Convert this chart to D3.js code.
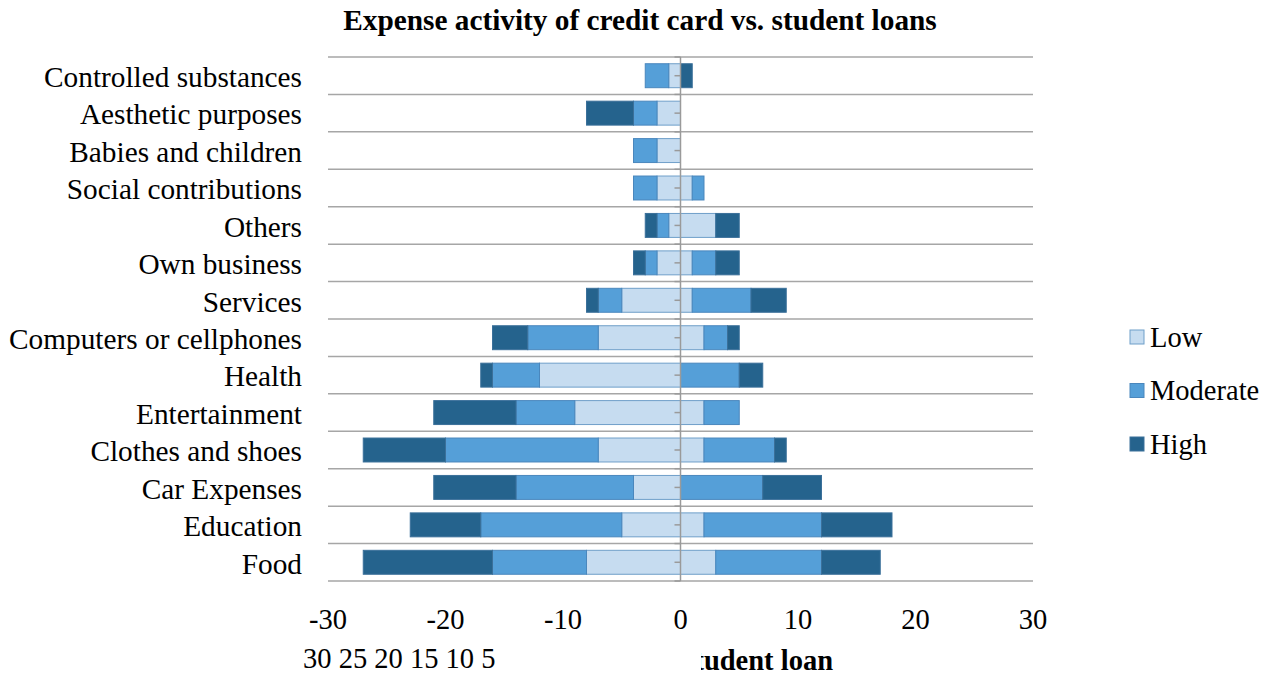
<!DOCTYPE html>
<html>
<head>
<meta charset="utf-8">
<script src="https://cdn.jsdelivr.net/npm/d3@7"></script>
<style>
  html, body { margin: 0; padding: 0; background: #fff; }
  svg { display: block; }
  text { font-family: "Liberation Serif", "Times New Roman", serif; fill: #000; }
</style>
</head>
<body>
<svg id="chart" width="1277" height="677"></svg>
<script>
// Expense categories, listed top to bottom
const categories = [
  "Controlled substances", "Aesthetic purposes", "Babies and children",
  "Social contributions", "Others", "Own business", "Services",
  "Computers or cellphones", "Health", "Entertainment", "Clothes and shoes",
  "Car Expenses", "Education", "Food"
];

// Credit card (drawn to the left of zero)
const creditLow      = [1, 2, 2, 2, 1, 2, 5, 7, 12, 9, 7, 4, 5, 8];
const creditModerate = [2, 2, 2, 2, 1, 1, 2, 6, 4, 5, 13, 10, 12, 8];
const creditHigh     = [0, 4, 0, 0, 1, 1, 1, 3, 1, 7, 7, 7, 6, 11];

// Student loans (drawn to the right of zero)
const loanLow      = [0, 0, 0, 1, 3, 1, 1, 2, 0, 2, 2, 0, 2, 3];
const loanModerate = [0, 0, 0, 1, 0, 2, 5, 2, 5, 3, 6, 7, 10, 9];
const loanHigh     = [1, 0, 0, 0, 2, 2, 3, 1, 2, 0, 1, 5, 6, 5];

const levels = ["Low", "Moderate", "High"];
const colors = { Low: "#c6dcf0", Moderate: "#559fd8", High: "#25638d" };
const strokes = { Low: "#6f9fc9", Moderate: "#4a87bd", High: "#3b709a" };

const xTicks = [-30, -20, -10, 0, 10, 20, 30];
const leftScaleLabels = ["30", "25", "20", "15", "10", "5"];

const FS = 28.5;
const FS_LABEL = 29.3;

const svg = d3.select("#chart");

const x = d3.scaleLinear().domain([-30, 30]).range([328, 1033]);
const y = d3.scaleBand().domain(categories).range([57, 581]).paddingInner(0.36).paddingOuter(0.18);
const band = d3.scaleBand().domain(categories).range([57, 581]);

// Build stacked segments: outward from zero on each side
const segments = [];
categories.forEach((c, i) => {
  const left = { Low: creditLow[i], Moderate: creditModerate[i], High: creditHigh[i] };
  const right = { Low: loanLow[i], Moderate: loanModerate[i], High: loanHigh[i] };
  let acc = 0;
  levels.forEach(l => {
    if (left[l] > 0) segments.push({ cat: c, level: l, x0: -(acc + left[l]), x1: -acc });
    acc += left[l];
  });
  acc = 0;
  levels.forEach(l => {
    if (right[l] > 0) segments.push({ cat: c, level: l, x0: acc, x1: acc + right[l] });
    acc += right[l];
  });
});

// Horizontal grid lines at category boundaries
const bounds = categories.map(c => band(c)).concat([band.range()[1]]);
svg.append("g").selectAll("line").data(bounds).join("line")
  .attr("x1", x(-30)).attr("x2", x(30))
  .attr("y1", d => d).attr("y2", d => d)
  .attr("stroke", "#a6a6a6").attr("stroke-width", 1.5);

// Bars
svg.append("g").selectAll("rect").data(segments).join("rect")
  .attr("x", d => x(d.x0))
  .attr("width", d => x(d.x1) - x(d.x0))
  .attr("y", d => y(d.cat))
  .attr("height", y.bandwidth())
  .attr("fill", d => colors[d.level])
  .attr("stroke", d => strokes[d.level])
  .attr("stroke-width", 1);

// Zero axis with small tick marks
const axisG = svg.append("g");
axisG.append("line")
  .attr("x1", x(0)).attr("x2", x(0))
  .attr("y1", band.range()[0]).attr("y2", band.range()[1])
  .attr("stroke", "#9a9a9a").attr("stroke-width", 1.5);
const tickYs = bounds.concat(categories.map(c => band(c) + band.bandwidth() / 2));
axisG.selectAll("line.tick").data(tickYs).join("line")
  .attr("class", "tick")
  .attr("x1", x(0) - 6).attr("x2", x(0))
  .attr("y1", d => d).attr("y2", d => d)
  .attr("stroke", "#9a9a9a").attr("stroke-width", 1.5);

// Category labels
svg.append("g").selectAll("text").data(categories).join("text")
  .attr("x", 302)
  .attr("y", d => band(d) + band.bandwidth() / 2 + 1)
  .attr("dy", "0.35em")
  .attr("text-anchor", "end")
  .attr("font-size", FS_LABEL)
  .text(d => d);

// Value axis labels
svg.append("g").selectAll("text").data(xTicks).join("text")
  .attr("x", d => x(d))
  .attr("y", 629)
  .attr("text-anchor", "middle")
  .attr("font-size", FS)
  .text(d => d === 0 ? "0" : (d < 0 ? "-" + Math.abs(d) : d));

// Second row of scale labels
svg.append("text")
  .attr("x", 303).attr("y", 668)
  .attr("font-size", FS)
  .text(leftScaleLabels.join(" "));

// Student loan caption, partially hidden at its left edge
svg.append("clipPath").attr("id", "capClip")
  .append("rect").attr("x", 701).attr("y", 630).attr("width", 300).attr("height", 47);
svg.append("text")
  .attr("clip-path", "url(#capClip)")
  .attr("x", 833).attr("y", 670)
  .attr("text-anchor", "end")
  .attr("font-size", FS)
  .attr("font-weight", "bold")
  .text("Student loan");

// Title
svg.append("text")
  .attr("x", 640).attr("y", 30)
  .attr("text-anchor", "middle")
  .attr("font-size", FS_LABEL)
  .attr("font-weight", "bold")
  .text("Expense activity of credit card vs. student loans");

// Legend
const legend = svg.append("g").selectAll("g").data(levels).join("g")
  .attr("transform", (d, i) => `translate(1130, ${337 + i * 53.5})`);
legend.append("rect")
  .attr("x", 0).attr("y", -7).attr("width", 14).attr("height", 14)
  .attr("fill", d => colors[d]).attr("stroke", d => strokes[d]).attr("stroke-width", 1);
legend.append("text")
  .attr("x", 20).attr("y", 0).attr("dy", "0.35em")
  .attr("font-size", FS)
  .text(d => d);
</script>
</body>
</html>
